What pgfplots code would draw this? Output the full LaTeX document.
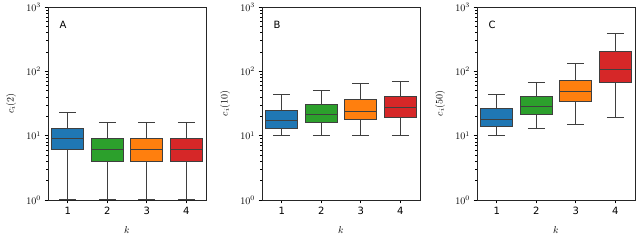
\documentclass[border=0pt]{standalone}
\usepackage{fontspec}
\setmainfont{DejaVu Sans}
\usepackage{pgfplots}
\pgfplotsset{compat=1.18}
\definecolor{tabblue}{HTML}{1F77B4}
\definecolor{tabgreen}{HTML}{2CA02C}
\definecolor{taborange}{HTML}{FF7F0E}
\definecolor{tabred}{HTML}{D62728}
\definecolor{edge}{HTML}{3F3F3F}
\pgfplotsset{
    ymin=1, ymax=1000, xmin=0.5, xmax=4.5,
    scale only axis, width=158pt, height=193pt,
    xtick={1,2,3,4}, xticklabels={1,2,3,4},
    ytick={1,10,100,1000},
    tick align=outside, xtick pos=bottom, ytick pos=left,
    major tick length=3.5pt, minor tick length=2pt,
    every tick/.style={black, line width=0.6pt},
    axis line style={black!85, line width=0.8pt},
    tick label style={font=\fontsize{10}{12}\selectfont},
    label style={font=\fontsize{11.5}{13}\selectfont},
    xlabel={$k$},
    every axis x label/.style={at={(axis description cs:0.5,-0.155)},anchor=center},
    every axis y label/.style={at={(axis description cs:-0.234,0.5)},rotate=90,anchor=center},
}
% \bx{position}{lower whisker}{lower quartile}{median}{upper quartile}{upper whisker}{colour}
\newcommand{\bx}[7]{%
  \pgfmathsetmacro\xl{#1-0.4}\pgfmathsetmacro\xr{#1+0.4}%
  \pgfmathsetmacro\cl{#1-0.21}\pgfmathsetmacro\cr{#1+0.21}%
  \addplot[edge, line width=1pt, mark=none] coordinates {(#1,#2) (#1,#3)};
  \addplot[edge, line width=1pt, mark=none] coordinates {(#1,#5) (#1,#6)};
  \addplot[edge, line width=1pt, mark=none] coordinates {(\cl,#2) (\cr,#2)};
  \addplot[edge, line width=1pt, mark=none] coordinates {(\cl,#6) (\cr,#6)};
  \addplot[draw=edge, fill=#7, line width=1pt, mark=none] coordinates {(\xl,#3) (\xr,#3) (\xr,#5) (\xl,#5)} -- cycle;
  \addplot[edge, line width=1pt, mark=none] coordinates {(\xl,#4) (\xr,#4)};
}
\begin{document}
\begin{tikzpicture}
\path[use as bounding box] (0pt,0pt) rectangle (640pt,240pt);
% Panel A
\begin{axis}[ymode=log, at={(48pt,40pt)}, anchor=south west, ylabel={$c_i(2)$}]
\bx{1}{1}{6}{9}{13}{23}{tabblue}
\bx{2}{1}{4}{6}{9}{16}{tabgreen}
\bx{3}{1}{4}{6}{9}{16}{taborange}
\bx{4}{1}{4}{6}{9}{16}{tabred}
\node[font=\fontsize{10}{12}\selectfont] at (axis description cs:0.095,0.91) {A};
\end{axis}
% Panel B
\begin{axis}[ymode=log, at={(262pt,40pt)}, anchor=south west, ylabel={$c_i(10)$}]
\bx{1}{10}{13}{17}{25}{43}{tabblue}
\bx{2}{10}{16}{21}{30}{51}{tabgreen}
\bx{3}{10}{18}{24}{37}{64}{taborange}
\bx{4}{10}{19}{27}{40}{70}{tabred}
\node[font=\fontsize{10}{12}\selectfont] at (axis description cs:0.095,0.91) {B};
\end{axis}
% Panel C
\begin{axis}[ymode=log, at={(477pt,40pt)}, anchor=south west, ylabel={$c_i(50)$}]
\bx{1}{10}{14}{18}{26}{44}{tabblue}
\bx{2}{13}{21}{28}{40}{68}{tabgreen}
\bx{3}{15}{34}{48}{72}{132}{taborange}
\bx{4}{19}{66}{106}{200}{394}{tabred}
\node[font=\fontsize{10}{12}\selectfont] at (axis description cs:0.095,0.91) {C};
\end{axis}
\end{tikzpicture}
\end{document}
